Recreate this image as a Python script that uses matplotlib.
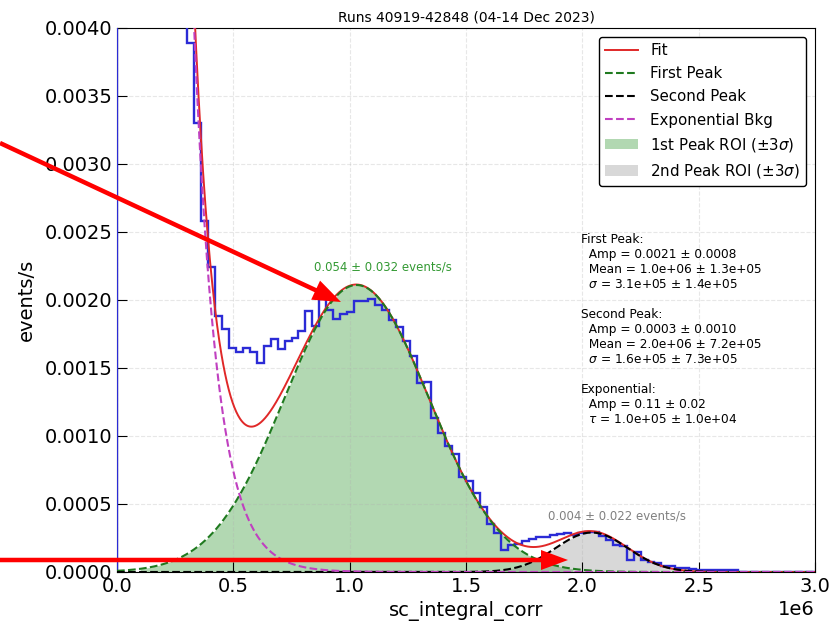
import numpy as np
import matplotlib
matplotlib.use("Agg")
import matplotlib.pyplot as plt
from matplotlib.patches import FancyArrow
from matplotlib.transforms import IdentityTransform

# ---------------- data ----------------
bin_edges = np.linspace(0, 3.0e6, 101)  # 0.03e6 wide bins
rates = [
    0.095, 0.072, 0.055, 0.040, 0.030, 0.022, 0.016, 0.0115, 0.0082, 0.0055,
    0.00389, 0.00330, 0.00258, 0.00224, 0.00188, 0.00179, 0.00165, 0.00162, 0.00165, 0.00162,
    0.00154, 0.00166, 0.00171, 0.00164, 0.00170, 0.00172, 0.00177, 0.00192, 0.00181, 0.00201,
    0.00193, 0.00186, 0.00190, 0.00191, 0.00199, 0.00199, 0.00201, 0.00196, 0.00193, 0.00185,
    0.00180, 0.00170, 0.00159, 0.00139, 0.00140, 0.00113, 0.00102, 0.00093, 0.00087, 0.00070,
    0.00067, 0.00058, 0.00048, 0.00035, 0.00029, 0.000165, 0.000195, 0.000205, 0.00023, 0.00024,
    0.000255, 0.00026, 0.00027, 0.000283, 0.000285, 0.000272, 0.000287, 0.000295, 0.000295, 0.000262,
    0.000235, 0.00020, 0.00019, 0.00009, 0.000144, 0.00009, 0.000071, 0.000068, 0.000046, 0.000045,
    0.000029, 0.000029, 0.000022, 0.000018, 0.000018, 0.000012, 0.000014, 0.000012, 0.000012, 0.0,
    0.0, 0.0, 0.0, 0.0, 0.0, 0.0, 0.0, 0.0, 0.0, 0.0,
]

# fit parameters
peak1_amp, peak1_mean, peak1_sigma = 0.00211, 1.03e6, 3.1e5
peak2_amp, peak2_mean, peak2_sigma = 0.00029, 2.04e6, 1.55e5
exp_amp, exp_tau = 0.11, 1.0e5

title = "Runs 40919-42848 (04-14 Dec 2023)"
rate1_label = "0.054 ± 0.032 events/s"
rate2_label = "0.004 ± 0.022 events/s"
param_text = ("First Peak:\n  Amp = 0.0021 ± 0.0008\n  Mean = 1.0e+06 ± 1.3e+05\n"
              "  $\\sigma$ = 3.1e+05 ± 1.4e+05\n\n"
              "Second Peak:\n  Amp = 0.0003 ± 0.0010\n  Mean = 2.0e+06 ± 7.2e+05\n"
              "  $\\sigma$ = 1.6e+05 ± 7.3e+05\n\n"
              "Exponential:\n  Amp = 0.11 ± 0.02\n  $\\tau$ = 1.0e+05 ± 1.0e+04")

# ---------------- figure ----------------
fig = plt.figure(figsize=(8.31, 6.22), dpi=100)
ax = fig.add_axes([0.1408, 0.0804, 0.84, 0.8746])

centers = 0.5 * (bin_edges[:-1] + bin_edges[1:])
ax.hist(centers, bins=bin_edges, weights=rates, histtype="step",
        color="#2b2bd6", lw=1.7, zorder=3)

x = np.linspace(0, 3.0e6, 1500)
g1 = peak1_amp * np.exp(-0.5 * ((x - peak1_mean) / peak1_sigma) ** 2)
g2 = peak2_amp * np.exp(-0.5 * ((x - peak2_mean) / peak2_sigma) ** 2)
ex = exp_amp * np.exp(-x / exp_tau)
fit = g1 + g2 + ex

ax.plot(x, fit, color="#e02828", lw=1.4, label="Fit", zorder=4)
ax.plot(x, g1, "--", color="#1f7a1f", lw=1.5, label="First Peak", zorder=5)
ax.plot(x, g2, "--", color="black", lw=1.5, label="Second Peak", zorder=5)
ax.plot(x, ex, "--", color="#c040c0", lw=1.5, label="Exponential Bkg", zorder=5)

m1 = (x >= peak1_mean - 3 * peak1_sigma) & (x <= peak1_mean + 3 * peak1_sigma)
m2 = (x >= peak2_mean - 3 * peak2_sigma) & (x <= peak2_mean + 3 * peak2_sigma)
ax.fill_between(x[m1], g1[m1], color="green", alpha=0.3, lw=0,
                label="1st Peak ROI ($\\pm3\\sigma$)", zorder=1)
ax.fill_between(x[m2], g2[m2], color="gray", alpha=0.3, lw=0,
                label="2nd Peak ROI ($\\pm3\\sigma$)", zorder=1)

ax.text(peak1_mean + 1.15e5, peak1_amp + 1.35e-4, rate1_label, color="green",
        fontsize=8.5, ha="center", va="center", alpha=0.8)
ax.text(peak2_mean + 1.1e5, peak2_amp + 1.2e-4, rate2_label, color="gray",
        fontsize=8.5, ha="center", va="center")

ax.text(0.665, 0.624, param_text, transform=ax.transAxes, fontsize=8.7,
        va="top", ha="left")

ax.set_xlim(0, 3.0e6)
ax.set_ylim(0, 0.004)
ax.set_title(title, fontsize=10, pad=5)
ax.set_xlabel("sc_integral_corr", fontsize=14)
ax.set_ylabel("events/s", fontsize=14, labelpad=6)
ax.tick_params(direction="in", length=7, labelsize=14)
ax.xaxis.get_offset_text().set_fontsize(14)
ax.grid(True, alpha=0.3, ls="--", lw=0.8)

leg = ax.legend(loc="upper right", fontsize=10.8, framealpha=1, edgecolor="black",
                labelspacing=0.55, handlelength=2.2, borderaxespad=0.6)
leg.get_frame().set_linewidth(1.0)

# red pointer arrows (figure pixels, origin bottom-left)
H = 622
fig.add_artist(FancyArrow(0, H - 143, 341, -(302 - 143), width=4.5, head_width=21,
                          head_length=28, length_includes_head=True, color="red",
                          transform=IdentityTransform(), zorder=10, lw=0))
fig.add_artist(FancyArrow(0, H - 560, 568, 0, width=4.5, head_width=20,
                          head_length=27, length_includes_head=True, color="red",
                          transform=IdentityTransform(), zorder=10, lw=0))

fig.savefig("out.png", dpi=100)
